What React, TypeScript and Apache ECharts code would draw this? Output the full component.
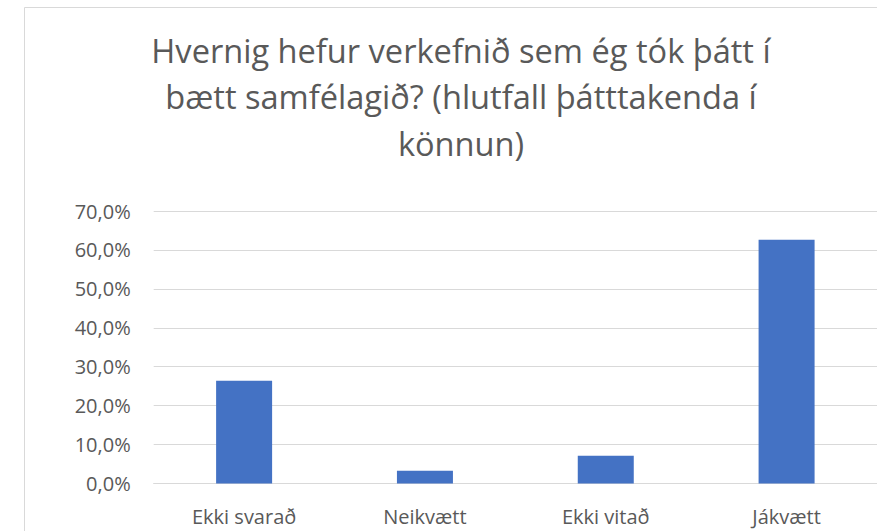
import React, { useEffect, useRef } from "react";
import * as echarts from "echarts";

const categories = ["Ekki svarað", "Neikvætt", "Ekki vitað", "Jákvætt"];
const values = [26.4, 3.3, 7.1, 62.6];
const titleText = "Hvernig hefur verkefnið sem ég tók þátt í\nbætt samfélagið? (hlutfall þátttakenda í\nkönnun)";

export default function App() {
  const ref = useRef<HTMLDivElement>(null);
  useEffect(() => {
    if (!ref.current) return;
    const chart = echarts.init(ref.current, undefined, { renderer: "svg" });
    const font = "Open Sans";
    chart.setOption({
      animation: false,
      backgroundColor: "#ffffff",
      title: {
        text: titleText,
        left: 461,
        top: 27,
        padding: 0,
        textAlign: "center",
        textStyle: {
          fontFamily: font,
          fontSize: 32.6,
          fontWeight: "normal",
          lineHeight: 46.5,
          color: "#595959",
        },
      },
      graphic: [
        {
          type: "line",
          shape: { x1: 24.5, y1: 7.5, x2: 877, y2: 7.5 },
          style: { stroke: "#d9d9d9", lineWidth: 1 },
          silent: true,
          z: -10,
        },
        {
          type: "line",
          shape: { x1: 24.5, y1: 7.5, x2: 24.5, y2: 531 },
          style: { stroke: "#d9d9d9", lineWidth: 1 },
          silent: true,
          z: -10,
        },
      ],
      grid: { left: 153.7, right: -3, top: 211, bottom: 47.5, containLabel: false },
      xAxis: {
        type: "category",
        data: categories,
        axisLine: { show: true, lineStyle: { color: "#d9d9d9", width: 1 } },
        axisTick: { show: false },
        axisLabel: {
          margin: 23,
          fontFamily: font,
          fontSize: 20,
          color: "#595959",
        },
      },
      yAxis: {
        type: "value",
        min: 0,
        max: 70,
        interval: 10,
        axisLine: { show: false },
        axisTick: { show: false },
        splitLine: { lineStyle: { color: "#d9d9d9", width: 1 } },
        axisLabel: {
          margin: 23,
          fontFamily: font,
          fontSize: 20,
          color: "#595959",
          formatter: (v: number) => v.toFixed(1).replace(".", ",") + "%",
        },
      },
      series: [
        {
          type: "bar",
          data: values,
          barWidth: 56,
          itemStyle: { color: "#4472C4" },
        },
      ],
    });
    return () => chart.dispose();
  }, []);
  return (
    <div
      ref={ref}
      style={{ position: "fixed", left: 0, top: 0, width: 877, height: 531 }}
    />
  );
}
